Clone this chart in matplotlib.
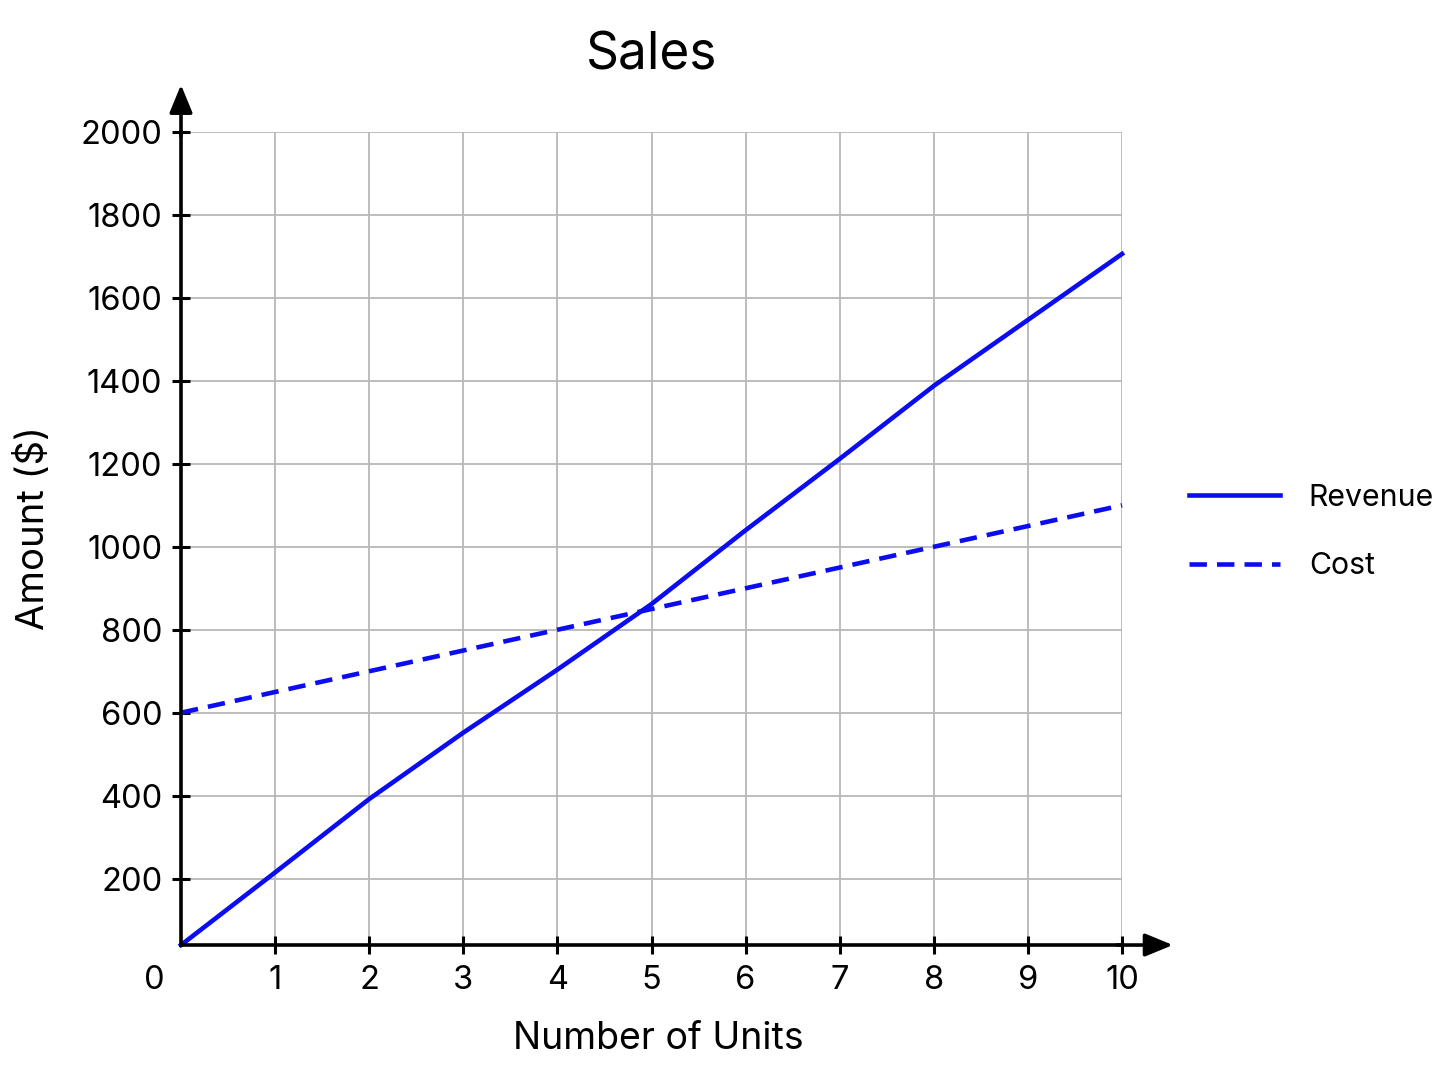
import matplotlib
matplotlib.use("Agg")
import matplotlib.pyplot as plt

plt.rcParams['font.family'] = ['Inter', 'DejaVu Sans']

units = [0, 1, 2, 3, 4, 5, 6, 7, 8, 9, 10]
revenue = [40, 215, 392, 552, 704, 862, 1040, 1212, 1388, 1547, 1706]
cost = [600, 650, 700, 750, 800, 850, 900, 950, 1000, 1050, 1100]
y_ticks = [200, 400, 600, 800, 1000, 1200, 1400, 1600, 1800, 2000]
x_ticks = [1, 2, 3, 4, 5, 6, 7, 8, 9, 10]

fig = plt.figure(figsize=(14.48, 10.86), dpi=100)
ax = fig.add_axes([0.125, 0.1298, 0.6499, 0.7487])

line_color = '#0c0cf0'
ax.plot(units, revenue, color=line_color, lw=3.3, label='Revenue', clip_on=False)
ax.plot(units, cost, color=line_color, lw=3.3, ls=(0, (3.8, 2.2)), label='Cost', clip_on=False)

ax.set_xlim(0, 10)
ax.set_ylim(40, 2000)
ax.set_xticks(x_ticks)
ax.set_yticks(y_ticks)
ax.grid(True, color='#b8b8b8', lw=1.3)
ax.set_axisbelow(True)

for s in ['top', 'right']:
    ax.spines[s].set_visible(False)
for s in ['left', 'bottom']:
    ax.spines[s].set_linewidth(2.6)
    ax.spines[s].set_color('black')

ax.tick_params(direction='inout', length=13, width=2.2, labelsize=23.5, pad=7)
ax.tick_params(axis='x', pad=8)

# axis arrows
ax.annotate('', xy=(0, 1.058), xytext=(0, 0.995), xycoords='axes fraction',
            arrowprops=dict(arrowstyle='-|>,head_length=1.7,head_width=0.7',
                            color='black', lw=2.6, shrinkA=0, shrinkB=0))
ax.annotate('', xy=(1.054, 0), xytext=(0.995, 0), xycoords='axes fraction',
            arrowprops=dict(arrowstyle='-|>,head_length=1.7,head_width=0.7',
                            color='black', lw=2.6, shrinkA=0, shrinkB=0))

ax.text(-0.028, -0.024, '0', transform=ax.transAxes, fontsize=23.5,
        ha='center', va='top')

ax.set_title('Sales', fontsize=37, pad=45)
ax.set_xlabel('Number of Units', fontsize=27)
ax.set_ylabel('Amount ($)', fontsize=27.5)
ax.xaxis.set_label_coords(0.507, -0.094)
ax.yaxis.set_label_coords(-0.137, 0.513)

fig.legend(loc='center left', bbox_to_anchor=(0.8025, 0.51), frameon=False,
           fontsize=21.8, handlelength=3.0, handletextpad=0.95, labelspacing=1.33)

fig.savefig('out.png', dpi=100)
